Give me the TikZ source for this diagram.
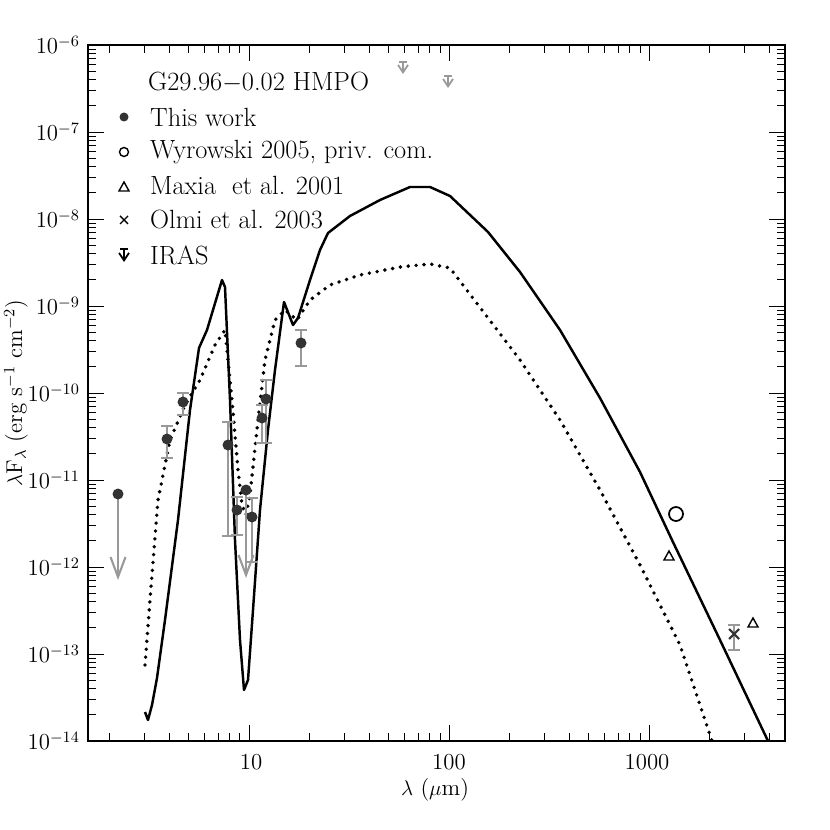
\documentclass[tikz,border=0pt]{standalone}
\usepackage{tikz}
\usetikzlibrary{arrows.meta}
\definecolor{dot}{HTML}{333333}
\definecolor{bar}{HTML}{999999}
\begin{document}
\begin{tikzpicture}[
  x=0.02cm, y=-0.02cm,
  every node/.style={font=\fontsize{13}{15}\selectfont},
  lgd/.style={anchor=west, font=\fontsize{15}{18}\selectfont},
  pt/.style={fill=dot, draw=none},
  err/.style={draw=bar, line width=1.2pt},
  lim/.style={draw=bar, line width=1.2pt, -{Straight Barb[length=4mm,width=3mm]}},
  sed/.style={line width=1.4pt, line join=round},
  sedthin/.style={line width=2.2pt, dash pattern=on 0pt off 4.5pt, line cap=round}
]
  \useasboundingbox (0,0) rectangle (830,830);
  % frame
  \draw[line width=1pt] (88,45) rectangle (785,741);
  % x ticks
  \foreach \d in {0,1,2,3} {
    \foreach \m in {1,...,9} {
      \pgfmathsetmacro\xx{49+200*(\d+log10(\m))}
      \pgfmathsetmacro\tl{\m==1 ? 16 : 8}
      \ifdim\xx pt>88pt \ifdim\xx pt<785pt
        \draw (\xx,741) -- ++(0,-\tl);
        \draw (\xx,45) -- ++(0,\tl);
      \fi\fi
    }
  }
  % y ticks
  \foreach \d in {0,...,7} {
    \foreach \m in {1,...,9} {
      \pgfmathsetmacro\yy{741-87*(\d+log10(\m))}
      \pgfmathsetmacro\tl{\m==1 ? 16 : 8}
      \draw (88,\yy) -- ++(\tl,0);
      \draw (785,\yy) -- ++(-\tl,0);
    }
  }
  \foreach \e [count=\i from 0] in {14,13,12,11,10,9,8,7,6}
    \node[anchor=east] (yl\i) at (86,741-87*\i) {10$^{-\e}$};
  \node (x10) at (251,762) {10};
  \node (x100) at (449,762) {100};
  \node (x1000) at (647,762) {1000};
  \node (xlab) at (435,790) {$\lambda$ ($\mu$m)};
  \node[rotate=90] (ylab) at (16,393) {$\lambda$F$_\lambda$ (erg s$^{-1}$ cm$^{-2}$)};
  % model curves
  \draw[sed] (145,712) -- (148,720) -- (152,705) -- (157,678) -- (165,620) -- (178,520)
    -- (190,410) -- (199,348) -- (207,330) -- (222,280) -- (225,287) -- (230,400)
    -- (235,540) -- (240,640) -- (244,690) -- (248,680) -- (253,610) -- (260,510)
    -- (268,430) -- (275,370) -- (284,302) -- (293,325) -- (298,318) -- (310,280)
    -- (320,250) -- (328,233) -- (350,216) -- (380,200) -- (410,187) -- (430,187)
    -- (450,196) -- (488,232) -- (520,272) -- (560,330) -- (600,398) -- (640,472)
    -- (672,540) -- (720,640) -- (768,741);
  \draw[sedthin] (145,665) -- (150,600) -- (158,500) -- (170,440) -- (185,405)
    -- (200,380) -- (215,345) -- (225,330) -- (232,400) -- (238,470) -- (242,505)
    -- (246,515) -- (250,495) -- (258,420) -- (265,360) -- (275,320) -- (285,310)
    -- (297,320) -- (310,300) -- (330,285) -- (360,275) -- (400,267) -- (430,264)
    -- (450,268) -- (488,318) -- (520,360) -- (560,420) -- (600,490) -- (640,565)
    -- (680,645) -- (712,741);
  % error bars
  \foreach \x/\a/\b in {167/426/458, 183/393/415, 228/422/536, 237/497/535,
      252/498/562, 262/405/443, 266/380/443, 301/330/366, 734/625/650} {
    \draw[err] (\x,\a) -- (\x,\b);
    \draw[err] (\x-6,\a) -- (\x+6,\a);
    \draw[err] (\x-6,\b) -- (\x+6,\b);
  }
  \draw[lim] (118,494) -- (118,580);
  \draw[lim] (246,490) -- (246,578);
  % data
  \foreach \x/\y in {118/494, 167/439, 183/402, 228/445, 237/510, 246/490,
      252/517, 262/418, 266/399, 301/343}
    \fill[pt] (\x,\y) circle (5.5);
  \draw[line width=1pt] (676,514) circle (7);
  \draw[line width=0.8pt] (669,551) -- (664,560) -- (674,560) -- cycle;
  \draw[line width=0.8pt] (753,618) -- (748,627) -- (758,627) -- cycle;
  \draw[line width=1.2pt, dot] (729,629) -- (739,639) (729,639) -- (739,629);
  % IRAS limits
  \foreach \x/\y in {403/62, 448/76} {
    \draw[bar, line width=1pt] (\x-4,\y) -- (\x+4,\y);
    \draw[bar, line width=1pt, -{Straight Barb[length=1.5mm,width=2mm]}] (\x,\y) -- (\x,\y+12);
  }
  % legend
  \node[lgd] (title) at (142,82) {G29.96$-$0.02 HMPO};
  \fill[pt] (124,117) circle (4.5);
  \node[lgd] (lg1) at (144,117) {This work};
  \draw[line width=0.8pt] (124,152) circle (4.5);
  \node[lgd] (lg2) at (144,152) {Wyrowski 2005, priv. com.};
  \draw[line width=0.8pt] (124,182) -- (119,191) -- (129,191) -- cycle;
  \node[lgd] (lg3) at (144,186) {Maxia\ \ et al. 2001};
  \draw[line width=0.8pt] (120,216) -- (128,224) (120,224) -- (128,216);
  \node[lgd] (lg4) at (144,220) {Olmi et al. 2003};
  \draw[line width=1pt] (120,249) -- (128,249);
  \draw[line width=1pt, -{Straight Barb[length=1.5mm,width=2mm]}] (124,249) -- (124,262);
  \node[lgd] (lg5) at (144,255) {IRAS};
\end{tikzpicture}
\end{document}
